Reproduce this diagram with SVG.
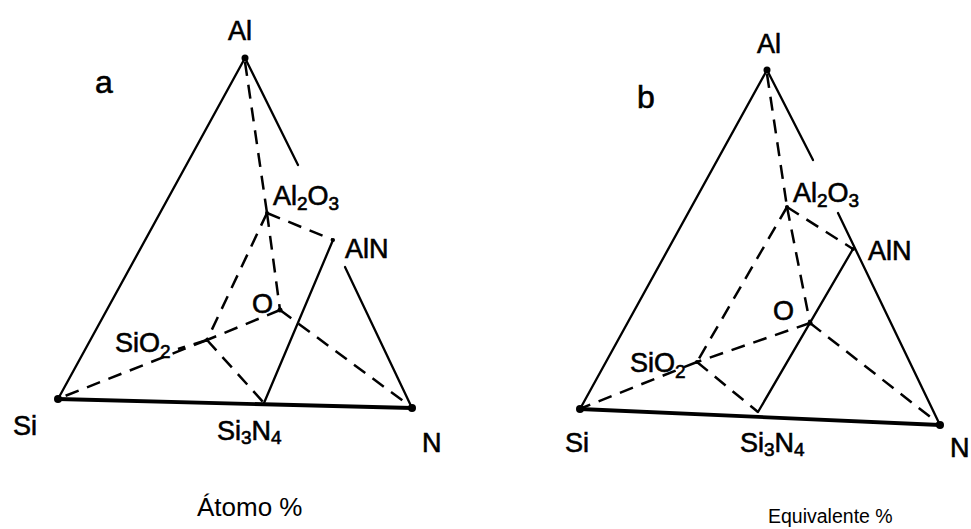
<svg xmlns="http://www.w3.org/2000/svg" width="971" height="529" viewBox="0 0 971 529">
<style>
.s{stroke:#000;stroke-width:2.3;fill:none;stroke-linecap:round}
.b{stroke:#000;stroke-width:3.8;fill:none;stroke-linecap:round}
.d{stroke:#000;stroke-width:2.5;fill:none;stroke-dasharray:14 9}
.t{font-family:"Liberation Sans",Arial,sans-serif;font-size:27px;fill:#000;stroke:#000;stroke-width:0.6}
.big{font-size:32px}
.sub{font-size:19px}
.cap{stroke-width:0;font-size:26px}
.cap2{stroke-width:0;font-size:19.5px}
.dot{fill:#000}
</style>
<rect width="971" height="529" fill="#fff"/>
<g id="connectors">
  <g id="conn-a">
    <line class="s" x1="245" y1="58" x2="58" y2="399"/>
    <line class="s" x1="245" y1="58" x2="298" y2="165"/>
    <line class="s" x1="345" y1="267" x2="412" y2="408"/>
    <line class="b" x1="58" y1="399" x2="412" y2="408"/>
    <line class="s" x1="333" y1="240" x2="264" y2="403"/>
    <line class="d" x1="245" y1="62" x2="267" y2="213"/>
    <line class="d" x1="267" y1="213" x2="333" y2="240"/>
    <line class="d" x1="267" y1="213" x2="280" y2="310"/>
    <line class="d" x1="267" y1="213" x2="207" y2="340"/>
    <line class="d" x1="280" y1="310" x2="207" y2="340"/>
    <line class="d" x1="280" y1="310" x2="410" y2="406"/>
    <line class="d" x1="207" y1="340" x2="60" y2="398"/>
    <line class="d" x1="207" y1="340" x2="264" y2="403"/>
    <line class="d" x1="207" y1="340" x2="178" y2="349"/>
  </g>
  <g id="conn-b">
    <line class="s" x1="767" y1="70" x2="580" y2="409"/>
    <line class="s" x1="767" y1="70" x2="813" y2="160"/>
    <line class="s" x1="838" y1="213" x2="940" y2="425"/>
    <line class="b" x1="580" y1="409" x2="940" y2="425"/>
    <line class="s" x1="853" y1="249" x2="758" y2="412"/>
    <line class="d" x1="767" y1="74" x2="787" y2="207"/>
    <line class="d" x1="787" y1="207" x2="853" y2="249"/>
    <line class="d" x1="787" y1="207" x2="810" y2="323"/>
    <line class="d" x1="787" y1="207" x2="697" y2="362"/>
    <line class="d" x1="810" y1="323" x2="697" y2="362"/>
    <line class="d" x1="810" y1="323" x2="938" y2="423"/>
    <line class="d" x1="697" y1="362" x2="582" y2="408"/>
    <line class="d" x1="697" y1="362" x2="758" y2="412"/>
  </g>
</g>
<g id="diagram-a">
  <g id="a-Al"><circle class="dot" cx="245" cy="58" r="3.5"/><text class="t" x="228" y="40">Al</text></g>
  <g id="a-label"><text class="t big" x="95" y="93">a</text></g>
  <g id="a-Al2O3"><circle class="dot" cx="267" cy="213" r="2"/><text class="t" x="273" y="205">Al<tspan class="sub" dy="5">2</tspan><tspan dy="-5">O</tspan><tspan class="sub" dy="5">3</tspan></text></g>
  <g id="a-AlN"><circle class="dot" cx="333" cy="240" r="2"/><text class="t" x="345" y="258">AlN</text></g>
  <g id="a-O"><circle class="dot" cx="280" cy="310" r="2.5"/><text class="t" x="252" y="313">O</text></g>
  <g id="a-SiO2"><circle class="dot" cx="207" cy="340" r="2"/><text class="t" x="115" y="352">SiO<tspan class="sub" dy="6">2</tspan></text></g>
  <g id="a-Si"><circle class="dot" cx="58" cy="399" r="4"/><text class="t" x="13" y="435">Si</text></g>
  <g id="a-Si3N4"><text class="t" x="217" y="440">Si<tspan class="sub" dy="4">3</tspan><tspan dy="-4">N</tspan><tspan class="sub" dy="4">4</tspan></text></g>
  <g id="a-N"><circle class="dot" cx="412" cy="408" r="4"/><text class="t" x="422" y="452">N</text></g>
  <g id="a-caption"><text class="t cap" x="197" y="516">Átomo %</text></g>
</g>
<g id="diagram-b">
  <g id="b-Al"><circle class="dot" cx="767" cy="70" r="3.5"/><text class="t" x="757" y="53">Al</text></g>
  <g id="b-label"><text class="t big" x="637" y="108">b</text></g>
  <g id="b-Al2O3"><circle class="dot" cx="787" cy="207" r="2"/><text class="t" x="793" y="202">Al<tspan class="sub" dy="5">2</tspan><tspan dy="-5">O</tspan><tspan class="sub" dy="5">3</tspan></text></g>
  <g id="b-AlN"><circle class="dot" cx="853" cy="249" r="2"/><text class="t" x="868" y="260">AlN</text></g>
  <g id="b-O"><circle class="dot" cx="810" cy="323" r="2.5"/><text class="t" x="773" y="320">O</text></g>
  <g id="b-SiO2"><circle class="dot" cx="697" cy="362" r="2"/><text class="t" x="630" y="372">SiO<tspan class="sub" dy="6">2</tspan></text></g>
  <g id="b-Si"><circle class="dot" cx="580" cy="409" r="4"/><text class="t" x="565" y="452">Si</text></g>
  <g id="b-Si3N4"><text class="t" x="740" y="452">Si<tspan class="sub" dy="4">3</tspan><tspan dy="-4">N</tspan><tspan class="sub" dy="4">4</tspan></text></g>
  <g id="b-N"><circle class="dot" cx="940" cy="425" r="4"/><text class="t" x="950" y="457">N</text></g>
  <g id="b-caption"><text class="t cap2" x="768" y="523">Equivalente %</text></g>
</g>
</svg>
